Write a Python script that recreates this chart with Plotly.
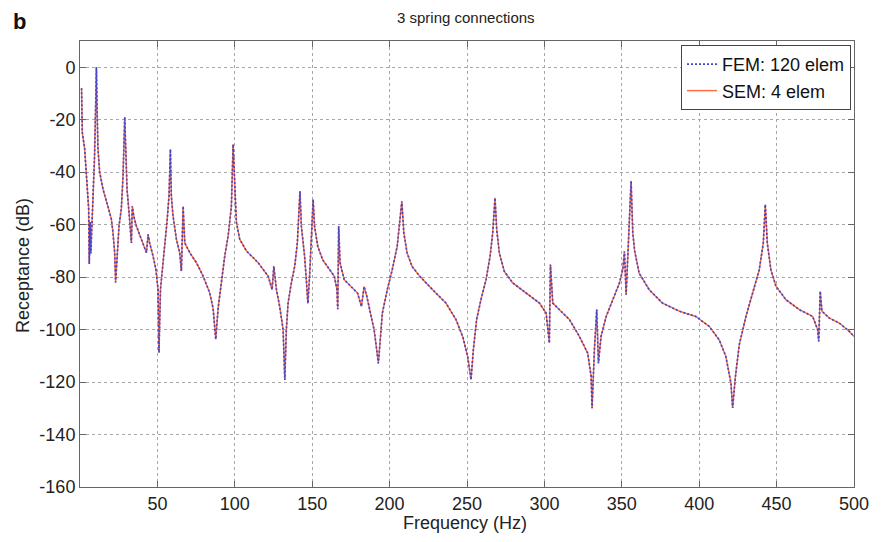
import plotly.graph_objects as go

# Frequency (Hz) and receptance (dB)
freq_hz = [1, 1.5, 3, 4, 5.2, 5.6, 6.0, 6.5, 7.0, 7.5, 8.3, 9.4, 10.1, 10.6, 11.0, 11.6, 12.7, 14.9,
           18, 20.3, 21.3, 22.4, 23, 24, 25.2, 26.7, 27.8, 28.9, 29.5, 30.4, 31.7, 33.2, 33.8, 34.7,
           36.4, 39.7, 42.9, 44, 45, 47.2, 49, 50.4, 51, 52, 53.2, 54.7, 56.2, 57.5, 58.4, 59, 60.1,
           62.3, 64.4, 65.5, 66.6, 67.7, 70.9, 75.2, 79.5, 83.8, 86, 87.7, 89.2, 91.4, 93.5, 95.7,
           97.8, 98.9, 100, 101, 103.2, 107.5, 115.2, 121.6, 124.1, 125.2, 126.9, 129, 131.2, 132.3,
           133.3, 134.4, 136.5, 138.7, 140.4, 141.2, 142.1, 143, 145.1, 146.2, 147.2, 148.3, 149.4,
           150.6, 151.5, 153.6, 156.8, 161.1, 164.3, 166, 166.5, 167.1, 168, 170.7, 175, 179.3,
           181.8, 183.5, 185.3, 187.8, 190, 191.7, 192.7, 193.8, 195.3, 198.5, 201.7, 204.9, 206.6,
           207.9, 209.2, 211.3, 214.5, 219.5, 227.8, 236.4, 242.9, 247.2, 250.4, 252.6, 254.1,
           256.2, 259, 262.3, 264.9, 266.6, 268.1, 269.2, 270.9, 274.1, 279.5, 288.1, 296.8, 301.1,
           303.2, 303.9, 305.4, 309.7, 316.2, 322.6, 328, 330.2, 330.8, 332.3, 333.8, 334.9, 336.6,
           339.9, 344.2, 348.5, 350.6, 351.7, 352.8, 353.9, 354.9, 356, 357.1, 358.3, 361.2, 367.7,
           376.3, 387.1, 397.8, 406.5, 412.9, 417.2, 420.5, 421.6, 423.3, 425.9, 430.2, 434.5,
           438.8, 441.4, 442.7, 444, 446.3, 449.6, 456, 464.7, 473.3, 476.5, 477.2, 478.2, 479.3,
           484, 490.5, 497, 500]

fem_db = [-8, -25, -31, -40, -46.6, -54, -75, -59, -71, -64, -46.6, -34, -15, 0, -15, -31, -40, -46.6,
          -53, -58, -63, -70.7, -82, -72, -60.5, -54, -41.5, -19, -34, -46.6, -55.5, -67, -53, -56.7,
          -60.5, -65.6, -70.7, -63.7, -67, -72, -77, -84.6, -108.8, -84.6, -75.8, -68, -59, -49, -31.3,
          -49, -56.7, -65.6, -70.7, -77.7, -53, -67, -70.7, -74.5, -79.6, -86, -92, -103.7, -92, -81,
          -72, -64.3, -53, -29.4, -49, -59, -65.6, -70, -74.6, -79.7, -84.8, -75.9, -84.8, -91.2,
          -100, -119.2, -100, -90, -82.3, -75.9, -67, -56.8, -47.3, -60.6, -72.1, -81, -90, -79.7,
          -63.2, -50.4, -60.6, -68.3, -73.4, -77.2, -79.7, -84.8, -92.2, -60.6, -74.6, -81, -83.6,
          -86.1, -91.2, -83.6, -87.4, -93.8, -100.1, -107.8, -112.9, -105.2, -93.8, -84.8, -77.2,
          -68.3, -56.8, -51.1, -63.2, -70.8, -75.9, -79.7, -84.8, -89.9, -96.2, -102.6, -110.2,
          -119.1, -107.7, -96.2, -88.6, -81, -72.1, -63.2, -49.8, -61.9, -70.8, -77.8, -82.2, -86.1,
          -89.9, -93.7, -105.1, -75.2, -89.9, -92.4, -96.2, -102.6, -109, -117.9, -130, -107.7,
          -92.4, -112.8, -102.6, -95, -88.6, -82.2, -77.2, -70.2, -86.7, -69.6, -60.6, -43.4, -63.2,
          -70, -78.5, -84.8, -89.9, -93, -95, -98.8, -103.9, -110.2, -120.4, -129.9, -118.4, -105.7,
          -95, -86.1, -77.2, -67, -52.3, -67, -77.2, -83.5, -88.6, -92.4, -95, -100, -104.5, -85.4,
          -93, -95.6, -97.5, -100.7, -102.6]

# SEM overlays FEM in the picture
sem_db = list(fem_db)

x_ticks = [50, 100, 150, 200, 250, 300, 350, 400, 450, 500]
y_ticks = [0, -20, -40, -60, -80, -100, -120, -140, -160]
y_ticktext = ["0", "-20", "-40", "-60", "-80", "-100", "-120", "-140", "-160"]

FONT = "Liberation Sans, Arial, Helvetica, sans-serif"
TXT = "#222222"

fig = go.Figure()
fig.add_trace(go.Scatter(x=freq_hz, y=sem_db, mode="lines", name="SEM: 4 elem",
                         line=dict(color="#ff6a3d", width=1.4), legendrank=2))
fig.add_trace(go.Scatter(x=freq_hz, y=fem_db, mode="lines", name="FEM: 120 elem",
                         line=dict(color="#4646c8", width=1.7, dash="2px,2px"), legendrank=1))

axis_common = dict(showline=True, linecolor="#666666", linewidth=1, mirror="ticks",
                   ticks="inside", ticklen=6, tickcolor="#666666",
                   showgrid=True, gridcolor="#a8a8a8", griddash="dot", gridwidth=1,
                   zeroline=False, automargin=False,
                   tickfont=dict(family=FONT, size=18, color=TXT))

fig.update_xaxes(range=[0, 500], tickvals=x_ticks, **axis_common)
fig.update_yaxes(range=[-160, 10], tickvals=y_ticks, ticktext=y_ticktext, **axis_common)

# page body has an 8px margin: figure origin sits at (8, 8) of the window
OFF = 8
W, H = 885, 542
# plot-area edges in window pixels
X0, X1, Y0, Y1 = 80, 854, 41, 487
L, T = X0 - OFF, Y0 - OFF
R, B = W - (X1 - OFF), H - (Y1 - OFF)
pw, ph = X1 - X0, Y1 - Y0


def px_x(p):
    return (p - X0) / pw


def px_y(p):
    return (Y1 - p) / ph


fig.update_layout(
    width=W, height=H,
    margin=dict(l=L, r=R, t=T, b=B, autoexpand=False),
    paper_bgcolor="white", plot_bgcolor="white",
    showlegend=True,
    legend=dict(x=px_x(851), y=px_y(45), xanchor="right", yanchor="top",
                bgcolor="white", bordercolor="#444444", borderwidth=1,
                font=dict(family=FONT, size=18, color="#111111"),
                tracegroupgap=0, itemwidth=30),
    annotations=[
        dict(text="3 spring connections", xref="paper", yref="paper", x=px_x(466), y=px_y(18),
             xanchor="center", yanchor="middle", showarrow=False,
             font=dict(family=FONT, size=15, color=TXT)),
        dict(text="<b>b</b>", xref="paper", yref="paper", x=px_x(11), y=px_y(21),
             xanchor="left", yanchor="middle", showarrow=False,
             font=dict(family=FONT, size=22, color="#111111")),
        dict(text="Frequency (Hz)", xref="paper", yref="paper", x=px_x(465), y=px_y(523),
             xanchor="center", yanchor="middle", showarrow=False,
             font=dict(family=FONT, size=18, color=TXT)),
        dict(text="Receptance (dB)", xref="paper", yref="paper", x=px_x(23), y=px_y(265),
             xanchor="center", yanchor="middle", showarrow=False, textangle=-90,
             font=dict(family=FONT, size=18, color=TXT)),
    ],
)

fig.write_html("out.html")
